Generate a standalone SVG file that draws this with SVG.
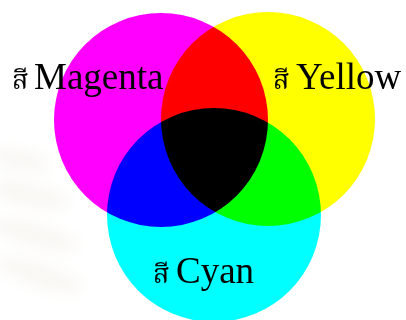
<svg xmlns="http://www.w3.org/2000/svg" width="406" height="320" viewBox="0 0 406 320">
<style>
.c{mix-blend-mode:multiply}
.lbl{font-family:'Liberation Serif','Times New Roman',serif;font-size:37px;fill:#000}
.th{font-family:'Noto Serif Thai','Noto Sans Thai','Liberation Serif','DejaVu Sans',serif;font-size:27px}
</style>
<defs>
<filter id="blur" x="-50%" y="-50%" width="200%" height="200%"><feGaussianBlur stdDeviation="7"/></filter>
</defs>
<rect width="406" height="320" fill="#fff"/>
<g id="background" filter="url(#blur)" fill="#f5f3ec" opacity="0.6">
<ellipse cx="20" cy="160" rx="30" ry="10" transform="rotate(10 20 160)"/>
<ellipse cx="30" cy="195" rx="40" ry="12" transform="rotate(12 30 195)"/>
<ellipse cx="35" cy="235" rx="45" ry="12" transform="rotate(15 35 235)"/>
<ellipse cx="40" cy="275" rx="45" ry="12" transform="rotate(18 40 275)"/>
</g>
<g id="circles">
<g id="magenta"><circle class="c" cx="161" cy="120" r="107" fill="#ff00ff"/></g>
<g id="yellow"><circle class="c" cx="268" cy="119" r="107" fill="#ffff00"/></g>
<g id="cyan"><circle class="c" cx="214" cy="215" r="107" fill="#00ffff"/></g>
</g>
<g id="labels">
<text class="lbl" x="12" y="89"><tspan class="th">สี</tspan><tspan x="34">Magenta</tspan></text>
<text class="lbl" x="273" y="89"><tspan class="th">สี</tspan><tspan x="296">Yellow</tspan></text>
<text class="lbl" x="153" y="283"><tspan class="th">สี</tspan><tspan x="176">Cyan</tspan></text>
</g>
</svg>
